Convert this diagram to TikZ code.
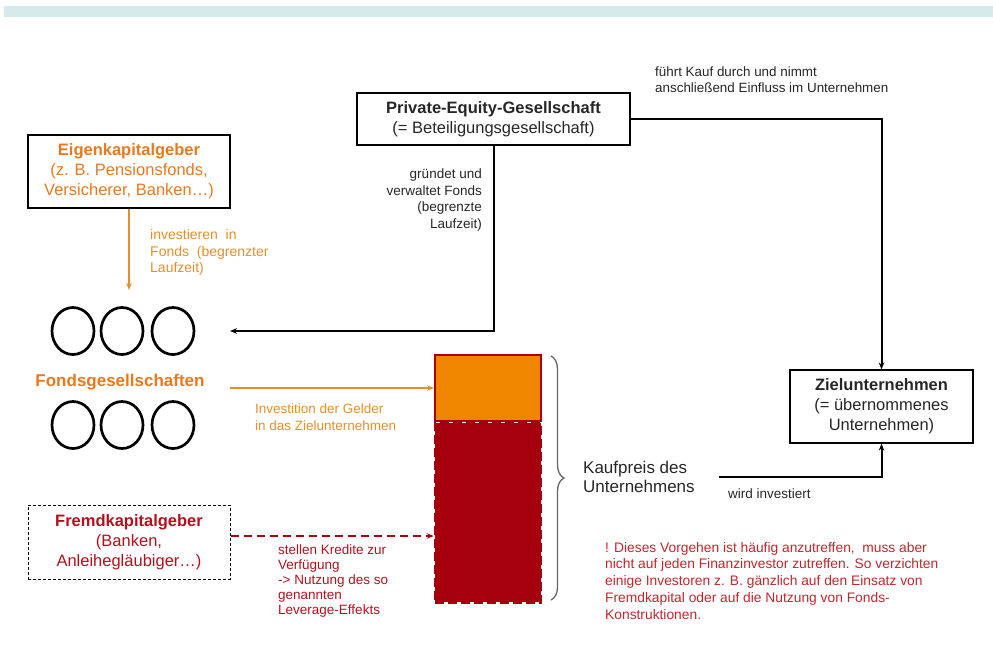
\documentclass[tikz,border=0pt]{standalone}
\usepackage{fontspec}
\setmainfont{Liberation Sans}
\usetikzlibrary{arrows.meta,shapes.geometric,decorations.pathreplacing}

\definecolor{bandcol}{HTML}{D6EAEB}
\definecolor{otext}{HTML}{E8791E}
\definecolor{oline}{HTML}{E58E2A}
\definecolor{obar}{HTML}{F08600}
\definecolor{dred}{HTML}{A6000F}
\definecolor{rtext}{HTML}{B0121D}
\definecolor{ntext}{HTML}{C0262E}
\definecolor{ktext}{HTML}{262626}

\begin{document}
\begin{tikzpicture}[x=1pt,y=-1pt]
      \useasboundingbox (0,0) rectangle (993,664);
      \tikzset{B/.style = {draw, line width=1.2pt, align=center, inner sep=0pt, font=\fontsize{16.5}{20}\selectfont}}
      \tikzset{C/.style = {ellipse, draw, line width=2.7pt, minimum width=42pt, minimum height=47pt, inner sep=0pt}}
      \tikzset{L/.style = {inner sep=0pt, font=\fontsize{13.5}{16.5}\selectfont}}
      \tikzset{E/.style = {line width=2pt, -{Stealth[length=7pt,width=5.5pt]}}}
      \fill[bandcol] (4,6) rectangle (993,17);
      % boxes
      \node[B,text=otext,minimum width=202pt,minimum height=73pt](eigen) at (129,171.5) {{\bfseries Eigenkapitalgeber}\\(z. B. Pensionsfonds,\\Versicherer, Banken\dots)};
      \node[B,text=ktext,minimum width=273pt,minimum height=52pt](pe) at (493.5,119) {{\bfseries Private-Equity-Gesellschaft}\\(= Beteiligungsgesellschaft)};
      \node[B,text=ktext,minimum width=183pt,minimum height=73pt](ziel) at (881.5,406.5) {{\bfseries Zielunternehmen}\\(= übernommenes\\Unternehmen)};
      \node[B,text=rtext,line width=1pt,dash pattern=on 3pt off 2pt,minimum width=202pt,minimum height=74pt](fremd) at (129,542) {{\bfseries Fremdkapitalgeber}\\(Banken,\\Anleihegläubiger\dots)};
      % funds
      \node[C](f1) at (73,331) {};
      \node[C](f2) at (122,331) {};
      \node[C](f3) at (173,331) {};
      \node[C](f4) at (73,425) {};
      \node[C](f5) at (122,425) {};
      \node[C](f6) at (173,425) {};
      \node[text=otext,font=\fontsize{17}{20}\bfseries](fonds) at (120,382) {Fondsgesellschaften};
      % purchase price bar
      \node[draw=dred,fill=obar,line width=2pt,minimum width=106pt,minimum height=66pt,inner sep=0pt](equity) at (488,388) {};
      \node[draw=dred,fill=dred,line width=2.5pt,dash pattern=on 9pt off 4pt,minimum width=106pt,minimum height=179pt,inner sep=0pt,anchor=north](debt) at (equity.south) {};
      \draw[gray!80!black,line width=1.3pt,decorate,decoration={brace,amplitude=13pt}] (551,356) -- (551,600);
      \node[text=ktext,align=left,inner sep=0pt,font=\fontsize{17}{19.5}\selectfont,anchor=west](kauf) at (583,477) {Kaufpreis des\\Unternehmens};
      % points where arrows end
      \coordinate (eigenEnd) at (129,290);
      \coordinate (fondsIn) at (230,331);
      \coordinate (fondsOut) at (230,388);
      % connectors
      \draw[E,oline](eigen) to (eigenEnd);
      \draw[E,black](pe.south) |- (fondsIn);
      \draw[E,black](pe.east) -| (ziel.north);
      \draw[E,oline](fondsOut) to (equity.west);
      \draw[E,dred,line width=2.4pt,dash pattern=on 8pt off 5pt]([yshift=6pt]fremd.east) to ([yshift=6pt]fremd.east -| debt.west);
      \draw[E,black,shorten <=24pt](kauf.east) -| (ziel.south);
      % labels
      \node[L,text=oline,align=left,anchor=north west,font=\fontsize{14}{16.7}\selectfont](l1) at (150,229) {investieren\ \ in\\Fonds\ \ (begrenzter\\Laufzeit)};
      \node[L,text=ktext,align=right,anchor=north east](l2) at (482,169) {gründet und\\verwaltet Fonds\\(begrenzte\\Laufzeit)};
      \node[L,text=ktext,align=left,anchor=north west,font=\fontsize{13.4}{15.5}\selectfont](l3) at (655,67) {führt Kauf durch und nimmt\\anschließend Einfluss im Unternehmen};
      \node[L,text=oline,align=left,anchor=north west](l4) at (255,404) {Investition der Gelder\\in das Zielunternehmen};
      \node[L,text=rtext,align=left,anchor=north west,font=\fontsize{13.5}{15}\selectfont](l5) at (278,545) {stellen Kredite zur\\Verfügung\\-> Nutzung des so\\genannten\\Leverage-Effekts};
      \node[L,text=ktext,anchor=west](l6) at (728,494) {wird investiert};
      \node[L,text=ntext,align=left,anchor=north west,font=\fontsize{13.8}{16.7}\selectfont](note) at (605,542) {! Dieses Vorgehen ist häufig anzutreffen,\ \ muss aber\\nicht auf jeden Finanzinvestor zutreffen. So verzichten\\einige Investoren z. B. gänzlich auf den Einsatz von\\Fremdkapital oder auf die Nutzung von Fonds-\\Konstruktionen.};
\end{tikzpicture}
\end{document}
